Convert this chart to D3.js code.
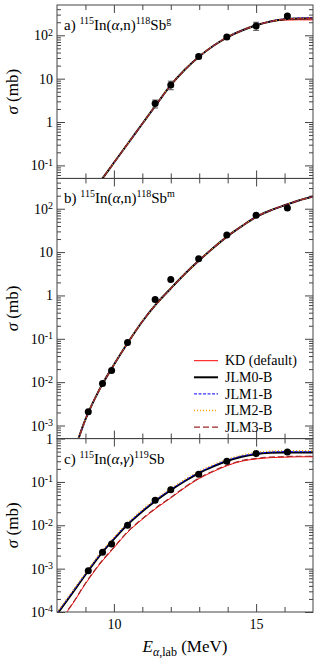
<!DOCTYPE html>
<html>
<head>
<meta charset="utf-8">
<script src="https://cdn.jsdelivr.net/npm/d3@7"></script>
<style>
  body { margin: 0; background: #fff; }
  svg text { font-family: "Liberation Serif", "Times New Roman", serif; fill: #000; }
</style>
</head>
<body>
<div id="chart"></div>
<script>
/*
 * Values.
 * Curves are sampled on a 0.5 MeV grid.
 */
var energies = [8, 8.5, 9, 9.5, 10, 10.5, 11, 11.5, 12, 12.5, 13, 13.5, 14, 14.5, 15, 15.5, 16, 16.5, 17];

var models = ['KD (default)', 'JLM0-B', 'JLM1-B', 'JLM2-B', 'JLM3-B'];

// a) 115In(a,n)118Sb g
var kdA   = [1.6e-3, 4.8e-3, 0.0141, 0.0407, 0.115, 0.324, 0.912, 2.57, 7.08, 16.2, 32.4, 57.5, 91.2, 129, 170, 207, 225, 228, 227];
var jlm0A = [1.6e-3, 4.8e-3, 0.0141, 0.0407, 0.115, 0.324, 0.912, 2.57, 7.08, 16.2, 32.4, 57.5, 91.2, 129, 170, 209, 234, 245, 248];
var jlm1A = [1.6e-3, 4.8e-3, 0.0141, 0.0407, 0.115, 0.324, 0.912, 2.57, 7.08, 16.2, 32.4, 57.5, 91.2, 129, 171, 210, 238, 250, 255];
var jlm2A = [1.6e-3, 4.8e-3, 0.0141, 0.0407, 0.115, 0.324, 0.912, 2.57, 7.08, 16.2, 32.4, 57.5, 91.2, 129, 170, 209, 236, 247, 252];
var jlm3A = [1.6e-3, 4.8e-3, 0.0141, 0.0407, 0.115, 0.324, 0.912, 2.57, 7.08, 16.2, 32.4, 57.5, 91.2, 129, 170, 209, 233, 244, 246];

// b) 115In(a,n)118Sb m -- all five models overlap
var allB  = [1.6e-5, 1.58e-4, 1.38e-3, 6.9e-3, 0.0251, 0.0832, 0.251, 0.646, 1.45, 3.16, 6.46, 12.6, 23.4, 39.8, 64.6, 91.2, 120, 155, 191];

// c) 115In(a,g)119Sb
var kdC   = [5.25e-5, 1.38e-4, 4.47e-4, 1.26e-3, 3.02e-3, 7.08e-3, 1.38e-2, 2.51e-2, 4.27e-2, 7.41e-2, 0.120, 0.174, 0.240, 0.302, 0.339, 0.363, 0.372, 0.380, 0.380];
var jlm0C = [8.9e-5, 2.51e-4, 7.24e-4, 2.0e-3, 4.79e-3, 1.07e-2, 2.09e-2, 3.80e-2, 6.46e-2, 0.105, 0.162, 0.229, 0.309, 0.380, 0.437, 0.468, 0.479, 0.479, 0.479];
var jlm1C = [9.3e-5, 2.61e-4, 7.53e-4, 2.08e-3, 4.98e-3, 1.11e-2, 2.17e-2, 3.95e-2, 6.72e-2, 0.109, 0.168, 0.238, 0.321, 0.395, 0.454, 0.487, 0.498, 0.498, 0.498];
var jlm2C = [9.8e-5, 2.76e-4, 7.96e-4, 2.2e-3, 5.27e-3, 1.18e-2, 2.3e-2, 4.18e-2, 7.11e-2, 0.116, 0.178, 0.252, 0.340, 0.418, 0.481, 0.515, 0.527, 0.527, 0.527];
var jlm3C = [5.4e-5, 1.42e-4, 4.6e-4, 1.3e-3, 3.11e-3, 7.29e-3, 1.42e-2, 2.59e-2, 4.4e-2, 7.63e-2, 0.124, 0.179, 0.247, 0.311, 0.349, 0.374, 0.383, 0.391, 0.391];

// measured points
var expEA = [11.45, 12.0, 12.98, 13.97, 15.0, 16.1];
var expA  = [2.66, 7.15, 32.4, 91.8, 165, 280];
var errA  = [0.55, 1.6, 3.5, 9, 35, 20];

var expE  = [9.1, 9.6, 9.92, 10.48, 11.45, 12.0, 12.98, 13.97, 15.0, 16.1];
var expB  = [2.07e-3, 9.3e-3, 1.86e-2, 0.082, 0.81, 2.34, 7.0, 24.7, 71, 104];
var expC  = [9.0e-4, 2.4e-3, 3.7e-3, 1.0e-2, 3.77e-2, 6.6e-2, 0.15, 0.30, 0.45, 0.49];

// axis ticks
var xMajor = [10, 15];
var xMinor = [9, 11, 12, 13, 14, 16];
var yMajorA = [0.1, 1, 10, 100];
var yMajorB = [1e-3, 1e-2, 0.1, 1, 10, 100];
var yMajorC = [1e-4, 1e-3, 1e-2, 0.1, 1];


/*
 * Layout and line styles.
 */
var width = 318
  , height = 661
  , plotL = 57
  , plotR = 313
  , plotT = 5
  , plotB = 612
  , decade = (plotB - plotT) / 14
  , serif = '"Liberation Serif", "Times New Roman", Times, serif';

var styles = [
  { color: '#ff0000', width: 1,   dash: null },
  { color: '#000000', width: 2,   dash: null },
  { color: '#0000ff', width: 1,   dash: '3,1.5' },
  { color: '#ffa500', width: 1.3, dash: '1,2' },
  { color: '#a02828', width: 1.2, dash: '6,3' }
];

var panels = [
  { id: 'a', domain: [0.05, 500], ticks: yMajorA,
    curves: [kdA, jlm0A, jlm1A, jlm2A, jlm3A],
    expE: expEA, exp: expA, err: errA,
    label: [['a) '], ['115', 'sup'], ['In('], ['\u03b1', 'it'], [',n)'], ['118', 'sup'], ['Sb'], ['g', 'sup']] },
  { id: 'b', domain: [5e-4, 500], ticks: yMajorB,
    curves: [allB, allB, allB, allB, allB],
    expE: expE, exp: expB, err: null, legend: true,
    label: [['b) '], ['115', 'sup'], ['In('], ['\u03b1', 'it'], [',n)'], ['118', 'sup'], ['Sb'], ['m', 'sup']] },
  { id: 'c', domain: [1e-4, 1], ticks: yMajorC,
    curves: [kdC, jlm0C, jlm1C, jlm2C, jlm3C],
    expE: expE, exp: expC, err: null, xLabels: true,
    label: [['c) '], ['115', 'sup'], ['In('], ['\u03b1', 'it'], [','], ['\u03b3', 'it'], [')'], ['119', 'sup'], ['Sb']] }
];


var svg = d3.select('#chart').append('svg')
  .attr('width', width)
  .attr('height', height)
  .attr('font-family', serif);

var x = d3.scaleLinear().domain([8, 17]).range([plotL, plotR]);


/*
 * Stack the panels; each gets a height
 * proportional to its number of decades.
 */
var yStart = plotT;
panels.forEach(function(p) {
  var n = Math.log10(p.domain[1] / p.domain[0])
    , yEnd = yStart + n * decade;
  drawPanel(p, yStart, yEnd);
  yStart = yEnd;
});


/*
 * x axis title
 */
var xt = svg.append('text')
  .attr('x', (plotL + plotR) / 2)
  .attr('y', 652)
  .attr('text-anchor', 'middle')
  .attr('font-family', serif)
  .attr('font-size', 17);
xt.append('tspan').attr('font-style', 'italic').text('E');
xt.append('tspan').attr('font-size', 12).attr('dy', 4).attr('font-style', 'italic').text('\u03b1');
xt.append('tspan').attr('font-size', 12).text(',lab');
xt.append('tspan').attr('dy', -4).text(' (MeV)');


function drawPanel(p, y0, y1) {
  var y = d3.scaleLog().domain(p.domain).range([y1, y0]);
  var g = svg.append('g').attr('class', 'panel-' + p.id);

  g.append('clipPath')
    .attr('id', 'clip-' + p.id)
    .append('rect')
    .attr('x', plotL).attr('y', y0)
    .attr('width', plotR - plotL).attr('height', y1 - y0);

  /*
   * minor y ticks: 2..9 in every decade
   */
  var minors = [];
  for (var k = Math.floor(Math.log10(p.domain[0])); k < Math.log10(p.domain[1]); k++) {
    for (var m = 2; m <= 9; m++) {
      var v = m * Math.pow(10, k);
      if (v > p.domain[0] && v < p.domain[1]) minors.push(v);
    }
  }

  axis(g, d3.axisLeft(y).tickValues(minors).tickSize(-4), plotL, 0);
  axis(g, d3.axisRight(y).tickValues(minors).tickSize(-4), plotR, 0);
  axis(g, d3.axisRight(y).tickValues(p.ticks).tickSize(-8), plotR, 0);
  axis(g, d3.axisTop(x).tickValues(xMinor).tickSize(-5), 0, y0);
  axis(g, d3.axisTop(x).tickValues(xMajor).tickSize(-8), 0, y0);
  axis(g, d3.axisBottom(x).tickValues(xMinor).tickSize(-5), 0, y1);

  // labelled left axis
  var ya = g.append('g')
    .attr('transform', 'translate(' + plotL + ',0)')
    .call(d3.axisLeft(y).tickValues(p.ticks).tickSize(-8).tickPadding(4).tickFormat(''));
  styleAxis(ya);
  ya.selectAll('text')
    .attr('font-size', 14)
    .each(function(d) {
      var e = Math.round(Math.log10(d))
        , t = d3.select(this);
      if (e === 0) { t.text('1'); return; }
      if (e === 1) { t.text('10'); return; }
      t.text('10');
      t.append('tspan').attr('dy', '-0.45em').attr('font-size', 10).text(e);
    });

  // bottom axis, labels only on the last panel
  var xa = g.append('g')
    .attr('transform', 'translate(0,' + y1 + ')')
    .call(d3.axisBottom(x).tickValues(xMajor).tickSize(-8).tickPadding(7)
      .tickFormat(p.xLabels ? d3.format('d') : ''));
  styleAxis(xa);
  xa.selectAll('text').attr('font-size', 14);

  /*
   * curves
   */
  var line = d3.line()
    .x(function(d) { return x(d[0]); })
    .y(function(d) { return y(d[1]); })
    .curve(d3.curveMonotoneX);

  var cg = g.append('g').attr('clip-path', 'url(#clip-' + p.id + ')');

  p.curves.forEach(function(vals, i) {
    var s = styles[i];
    cg.append('path')
      .datum(d3.zip(energies, vals))
      .attr('fill', 'none')
      .attr('stroke', s.color)
      .attr('stroke-width', s.width)
      .attr('stroke-dasharray', s.dash)
      .attr('d', line);
  });

  /*
   * measured points and error bars
   */
  var pts = d3.zip(p.expE, p.exp, p.err || p.exp.map(function() { return 0; }));

  var eb = cg.selectAll('.err')
    .data(pts.filter(function(d) { return d[2] > 0; }))
    .enter().append('g')
    .attr('stroke', '#555')
    .attr('stroke-width', 1);
  eb.append('line')
    .attr('x1', function(d) { return x(d[0]); })
    .attr('x2', function(d) { return x(d[0]); })
    .attr('y1', function(d) { return y(d[1] - d[2]); })
    .attr('y2', function(d) { return y(d[1] + d[2]); });
  [-1, 1].forEach(function(sgn) {
    eb.append('line')
      .attr('x1', function(d) { return x(d[0]) - 3; })
      .attr('x2', function(d) { return x(d[0]) + 3; })
      .attr('y1', function(d) { return y(d[1] + sgn * d[2]); })
      .attr('y2', function(d) { return y(d[1] + sgn * d[2]); });
  });

  cg.selectAll('circle')
    .data(pts)
    .enter().append('circle')
    .attr('cx', function(d) { return x(d[0]); })
    .attr('cy', function(d) { return y(d[1]); })
    .attr('r', 3.5)
    .attr('fill', '#000');

  /*
   * frame
   */
  g.append('rect')
    .attr('x', plotL).attr('y', y0)
    .attr('width', plotR - plotL).attr('height', y1 - y0)
    .attr('fill', 'none')
    .attr('stroke', '#444')
    .attr('stroke-width', 1);

  /*
   * panel title with superscripts
   */
  var t = g.append('text')
    .attr('x', 64)
    .attr('y', y0 + 25)
    .attr('font-family', serif)
    .attr('font-size', 15);
  var raised = false;
  p.label.forEach(function(part) {
    var ts = t.append('tspan').text(part[0]);
    if (part[1] === 'sup') {
      ts.attr('font-size', 10);
      if (!raised) ts.attr('dy', -6);
      raised = true;
    } else {
      if (raised) ts.attr('dy', 6);
      raised = false;
      if (part[1] === 'it') ts.attr('font-style', 'italic');
    }
  });

  /*
   * y title
   */
  var yt = g.append('text')
    .attr('transform', 'translate(18,' + (y0 + y1) / 2 + ') rotate(-90)')
    .attr('text-anchor', 'middle')
    .attr('font-family', serif)
    .attr('font-size', 17);
  yt.append('tspan').attr('font-style', 'italic').text('\u03c3');
  yt.append('tspan').text(' (mb)');

  if (p.legend) drawLegend(g);
}


function axis(g, a, tx, ty) {
  var s = g.append('g')
    .attr('transform', 'translate(' + tx + ',' + ty + ')')
    .call(a.tickFormat(''));
  styleAxis(s);
  s.selectAll('text').remove();
}

function styleAxis(s) {
  s.select('.domain').remove();
  s.attr('font-family', serif).attr('color', '#444');
}


/*
 * Legend sits in the lower right of panel b.
 */
function drawLegend(g) {
  var rows = g.append('g').selectAll('g')
    .data(models)
    .enter().append('g')
    .attr('transform', function(d, i) { return 'translate(194,' + (360.7 + i * 16.6) + ')'; });

  rows.append('line')
    .attr('x1', 0).attr('x2', 24)
    .attr('stroke', function(d, i) { return styles[i].color; })
    .attr('stroke-width', function(d, i) { return styles[i].width; })
    .attr('stroke-dasharray', function(d, i) { return styles[i].dash; });

  rows.append('text')
    .attr('x', 31)
    .attr('dy', '0.33em')
    .attr('font-family', serif)
    .attr('font-size', 14)
    .text(function(d) { return d; });
}
</script>
</body>
</html>
